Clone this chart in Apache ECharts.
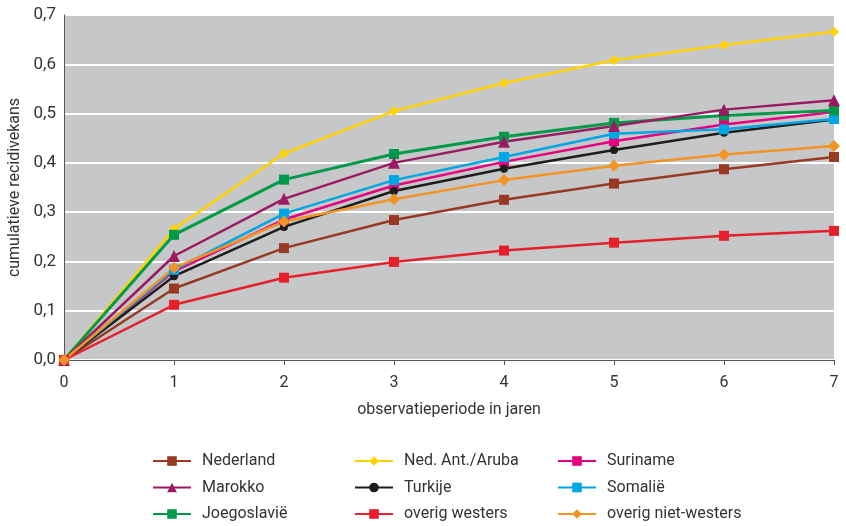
<!DOCTYPE html>
<html>
<head>
<meta charset="utf-8">
<script src="https://cdn.jsdelivr.net/npm/echarts@6/dist/echarts.min.js"></script>
<style>
  html, body { margin: 0; padding: 0; background: #fff; }
  #chart { width: 846px; height: 526px; }
</style>
</head>
<body>
<div id="chart"></div>
<script>
  // observatieperiode (jaren)
  const years = [0, 1, 2, 3, 4, 5, 6, 7];

  const nederland      = [0, 0.145, 0.227, 0.284, 0.325, 0.358, 0.387, 0.412];
  const nedAntAruba    = [0, 0.266, 0.419, 0.505, 0.562, 0.608, 0.639, 0.666];
  const suriname       = [0, 0.180, 0.285, 0.354, 0.402, 0.444, 0.478, 0.503];
  const marokko        = [0, 0.211, 0.327, 0.400, 0.443, 0.475, 0.508, 0.527];
  const turkije        = [0, 0.170, 0.270, 0.343, 0.388, 0.426, 0.461, 0.488];
  const somalie        = [0, 0.183, 0.297, 0.365, 0.412, 0.459, 0.468, 0.489];
  const joegoslavie    = [0, 0.254, 0.366, 0.418, 0.453, 0.481, 0.496, 0.506];
  const overigWesters  = [0, 0.112, 0.167, 0.199, 0.222, 0.238, 0.252, 0.262];
  const overigNietWest = [0, 0.187, 0.281, 0.326, 0.365, 0.394, 0.417, 0.434];

  const yTicks = [0, 0.1, 0.2, 0.3, 0.4, 0.5, 0.6, 0.7];

  const font = 'Roboto, "Liberation Sans", Arial, sans-serif';

  const pair = (arr) => years.map((x, i) => [x, arr[i]]);

  const mk = (name, data, color, symbol, size, width) => ({
    name: name,
    type: 'line',
    data: pair(data),
    symbol: symbol,
    symbolSize: size,
    showSymbol: true,
    lineStyle: { color: color, width: width || 2.5 },
    itemStyle: { color: color },
    emphasis: { disabled: true }
  });

  const series = [
    mk('Nederland', nederland, '#973a21', 'rect', 10),
    mk('Ned. Ant./Aruba', nedAntAruba, '#ffd200', 'diamond', 10),
    mk('Suriname', suriname, '#e6007e', 'rect', 10),
    mk('Turkije', turkije, '#1d1d1b', 'circle', 8),
    mk('Somalië', somalie, '#00a6e4', 'rect', 10),
    mk('Joegoslavië', joegoslavie, '#009a4a', 'rect', 10, 3),
    mk('Marokko', marokko, '#9a1b62', 'triangle', 12),
    mk('overig westers', overigWesters, '#e5202a', 'rect', 10),
    mk('overig niet-westers', overigNietWest, '#f39323', 'diamond', 12)
  ];

  const legendBase = {
    orient: 'vertical',
    top: 448,
    height: 90,
    itemWidth: 38,
    itemHeight: 12,
    itemGap: 10.5,
    textStyle: { color: '#333', fontSize: 16, fontFamily: font, padding: [0, 0, 0, 6] }
  };

  const chart = echarts.init(document.getElementById('chart'));
  chart.setOption({
    animation: false,
    grid: {
      left: 64, right: 12, top: 15, bottom: 166,
      outerBoundsMode: 'none',
      show: true, backgroundColor: '#c6c7c9', borderWidth: 0
    },
    legend: [
      Object.assign({ left: 147, data: ['Nederland', 'Marokko', 'Joegoslavië'] }, legendBase),
      Object.assign({ left: 349, data: ['Ned. Ant./Aruba', 'Turkije', 'overig westers'] }, legendBase),
      Object.assign({ left: 552, data: ['Suriname', 'Somalië', 'overig niet-westers'] }, legendBase)
    ],
    xAxis: {
      type: 'value',
      min: 0, max: 7, interval: 1,
      name: 'observatieperiode in jaren',
      nameLocation: 'middle',
      nameGap: 42,
      nameTextStyle: { color: '#333', fontSize: 16, fontFamily: font },
      axisLine: { show: true, lineStyle: { color: '#555', width: 1 } },
      axisTick: { show: true, length: 5, lineStyle: { color: '#555' } },
      axisLabel: { color: '#333', fontSize: 16, fontFamily: font, margin: 15 },
      splitLine: { show: false }
    },
    yAxis: {
      type: 'value',
      min: 0, max: 0.7, interval: 0.1,
      name: 'cumulatieve recidivekans',
      nameLocation: 'middle',
      nameGap: 37,
      nameTextStyle: { color: '#333', fontSize: 16, fontFamily: font },
      axisLine: { show: true, lineStyle: { color: '#555', width: 1 } },
      axisTick: { show: false },
      axisLabel: {
        color: '#333', fontSize: 17, fontFamily: font, margin: 8,
        formatter: (v) => {
          const t = yTicks.find((k) => Math.abs(k - v) < 1e-6);
          return (t === undefined ? v : t).toFixed(1).replace('.', ',');
        }
      },
      splitLine: { show: true, lineStyle: { color: '#ffffff', width: 2 } }
    },
    series: series
  });
</script>
</body>
</html>
